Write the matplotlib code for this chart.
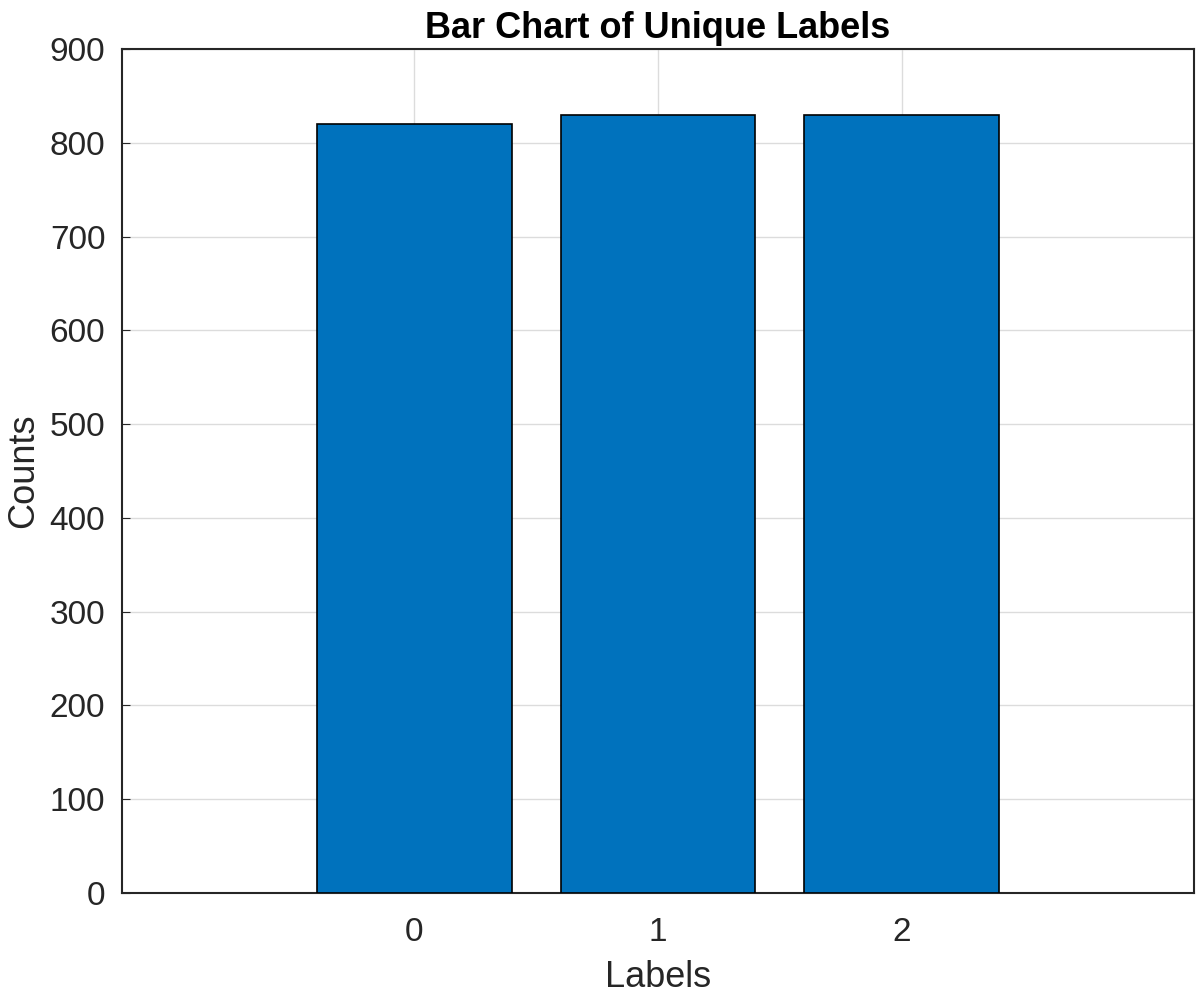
import matplotlib.pyplot as plt

labels = [0, 1, 2]
counts = [820, 830, 830]

plt.rcParams['font.family'] = ['Liberation Sans', 'DejaVu Sans']

fig = plt.figure(figsize=(12, 9.96), dpi=100)
ax = fig.add_axes([0.1017, 0.1034, 0.8933, 0.8474])

ax.bar(labels, counts, width=0.8, color='#0072BD', edgecolor='black', linewidth=1.2, zorder=3)

ax.set_xlim(-1.2, 3.2)
ax.set_ylim(0, 900)
ax.set_xticks(labels)
ax.set_yticks(range(0, 901, 100))

ax.grid(True, color='#dcdcdc', linewidth=1, zorder=0)
ax.set_axisbelow(True)
ax.tick_params(direction='in', length=6, labelsize=24, colors='#262626')
ax.tick_params(axis='x', pad=17)
ax.tick_params(axis='y', pad=12)
for s in ax.spines.values():
    s.set_color('#262626')
    s.set_linewidth(1.5)

ax.set_xlabel('Labels', fontsize=26, color='#262626', labelpad=9)
ax.set_ylabel('Counts', fontsize=26, color='#262626', labelpad=6)
ax.set_title('Bar Chart of Unique Labels', fontsize=26, fontweight='bold', pad=8)

fig.savefig('out.png', dpi=100)
